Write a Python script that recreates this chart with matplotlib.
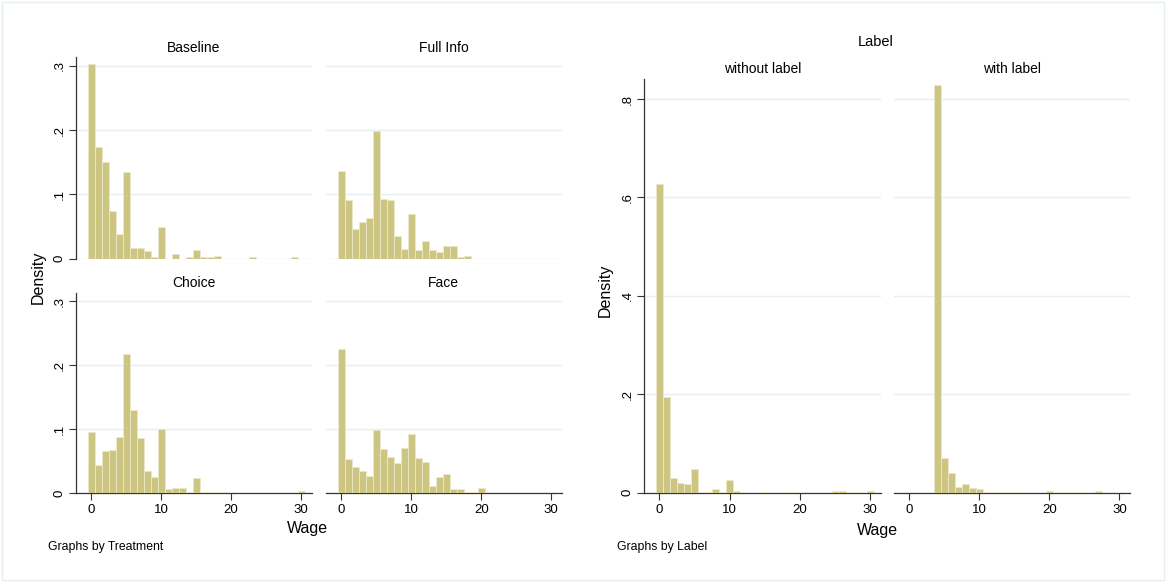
import matplotlib
matplotlib.use('Agg')
import matplotlib.pyplot as plt
from matplotlib.patches import Rectangle

plt.rcParams['font.family'] = ['Liberation Sans', 'DejaVu Sans']

# wage bins (width 1, centred on integers)
wage_bins = list(range(31))

baseline = [.302, .174, .150, .0747, .039, .134, .0166, .0166, .012, .002,
            .049, 0, .007, 0, .002, .0135, .002, .002, .004, 0,
            0, 0, 0, .0025, 0, 0, 0, 0, 0, .0025, 0]
full_info = [.137, .0913, .0467, .057, .0633, .1988, .093, .0913, .0353, .015,
             .069, .0135, .028, .0135, .0099, .019, .019, .002, .004, 0,
             0, 0, 0, 0, 0, 0, 0, 0, 0, 0, 0]
choice = [.095, .043, .065, .0666, .0868, .2168, .130, .0858, .0338, .025,
          .1004, .0068, .0083, .0083, 0, .0234, .0016, 0, .0016, 0,
          0, 0, 0, 0, 0, 0, 0, 0, 0, 0, .003]
face = [.225, .0536, .0406, .0348, .0265, .0983, .0686, .0556, .0473, .0702,
        .092, .054, .0484, .0114, .025, .029, .0068, .0068, .0016, .0016,
        .0073, 0, 0, 0, 0, 0, 0, 0, 0, 0, 0]
without_label = [.627, .1935, .029, .019, .017, .048, 0, .001, .0075, .001,
                 .026, .0034, 0, 0, 0, .001, 0, 0, .001, 0,
                 .001, 0, 0, 0, 0, .003, .003, .0015, .0015, 0, .003]
with_label = [0, 0, 0, 0, .828, .0705, .039, .012, .0176, .010,
              .0068, 0, .0014, 0, .0014, .0014, 0, 0, 0, 0,
              .0034, 0, .0014, 0, .0014, 0, 0, .0034, 0, 0, 0]

treatment_titles = ['Baseline', 'Full Info', 'Choice', 'Face']
label_titles = ['without label', 'with label']
x_ticks = [0, 10, 20, 30]
left_yticks = [0, .1, .2, .3]
right_yticks = [0, .2, .4, .6, .8]

W, H = 1166, 582
BAR = '#cdc582'
EDGE = '#ece8c8'
GRID = '#e6eff1'
AXC = '#333333'

fig = plt.figure(figsize=(W / 100, H / 100), dpi=100)
fig.patch.set_facecolor('white')
fig.patches.append(Rectangle((2 / W, 2 / H), 1 - 4 / W, 1 - 4 / H, transform=fig.transFigure,
                             fill=False, edgecolor='#e6eef0', linewidth=1))


def px_axes(left, top, right, bottom):
    return fig.add_axes([left / W, 1 - bottom / H, (right - left) / W, (bottom - top) / H])


def ylab(v):
    if v == 0:
        return '0'
    return f'{v:g}'.lstrip('0')


def panel(ax, heights, title, yticks, ytop, show_x, show_y):
    ax.bar(wage_bins, heights, width=1, color=BAR, edgecolor=EDGE, linewidth=0.6, zorder=3)
    ax.set_xlim(-2.2, 31.5)
    ax.set_ylim(0, ytop)
    ax.set_yticks(yticks)
    ax.set_yticklabels([ylab(v) for v in yticks])
    ax.set_xticks(x_ticks)
    ax.grid(axis='y', color=GRID, linewidth=1, zorder=0)
    ax.set_axisbelow(True)
    for s in ['top', 'right']:
        ax.spines[s].set_visible(False)
    ax.spines['left'].set_visible(show_y)
    ax.spines['bottom'].set_visible(show_x)
    for s in ['left', 'bottom']:
        ax.spines[s].set_color(AXC)
        ax.spines[s].set_linewidth(0.9)
    ax.tick_params(axis='x', bottom=show_x, labelbottom=show_x, length=5, width=0.8,
                   color=AXC, labelsize=9.5, pad=3)
    ax.tick_params(axis='y', left=show_y, labelleft=show_y, length=5, width=0.8,
                   color=AXC, labelsize=9.5, pad=2.5, labelrotation=90)
    for lab in ax.get_yticklabels():
        lab.set_va('center')
    ax.set_title(title, fontsize=10, pad=4)


# left group: by Treatment
cols = [(75.7, 311.7), (326, 561.7)]
rows = [(57.3, 258.7), (292.7, 493)]
left_data = [baseline, full_info, choice, face]
for i, heights in enumerate(left_data):
    r, c = divmod(i, 2)
    ax = px_axes(cols[c][0], rows[r][0], cols[c][1], rows[r][1])
    panel(ax, heights, treatment_titles[i], left_yticks, 0.313, show_x=(r == 1), show_y=(c == 0))

fig.text(38 / W, 1 - 277 / H, 'Density', rotation=90, ha='center', va='center', fontsize=11.5)
fig.text(307 / W, 1 - 529 / H, 'Wage', ha='center', va='center', fontsize=11.5)
fig.text(48 / W, 1 - 547 / H, 'Graphs by Treatment', ha='left', va='center', fontsize=8.8)

# right group: by Label
rcols = [(644, 880.7), (894, 1130)]
right_data = [without_label, with_label]
for c, heights in enumerate(right_data):
    ax = px_axes(rcols[c][0], 79, rcols[c][1], 492.5)
    panel(ax, heights, label_titles[c], right_yticks, 0.841, show_x=True, show_y=(c == 0))

fig.text(876 / W, 1 - 42 / H, 'Label', ha='center', va='center', fontsize=10.5)
fig.text(605 / W, 1 - 290 / H, 'Density', rotation=90, ha='center', va='center', fontsize=11.5)
fig.text(877 / W, 1 - 530 / H, 'Wage', ha='center', va='center', fontsize=11.5)
fig.text(617 / W, 1 - 547 / H, 'Graphs by Label', ha='left', va='center', fontsize=8.8)

fig.savefig('out.png', dpi=100)
